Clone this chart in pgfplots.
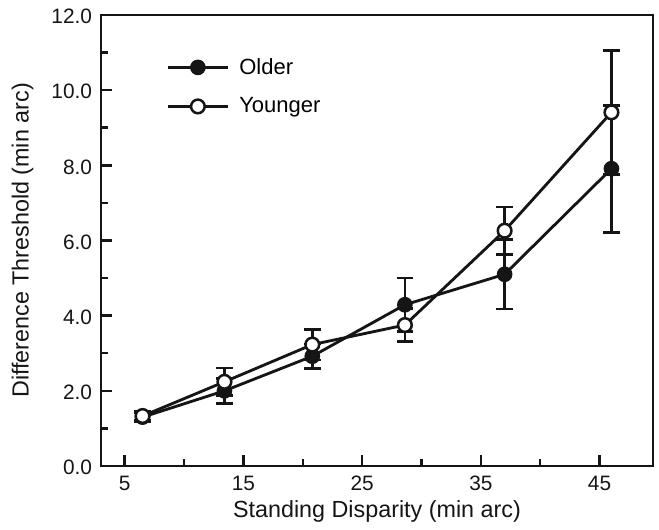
\documentclass[border=0pt]{standalone}
\usepackage{fontspec}
\setmainfont{Liberation Sans}
\usepackage{pgfplots}
\pgfplotsset{compat=1.18}
\definecolor{ink}{HTML}{151515}
\begin{document}
\begin{tikzpicture}
\begin{axis}[
  scale only axis, width=331.2pt, height=270.6pt,
  xmin=3, xmax=49.5, ymin=0, ymax=12,
  xtick={5,15,25,35,45}, minor xtick={10,20,30,40},
  ytick={0,2,...,12}, minor ytick={1,3,...,11},
  xtick pos=bottom, ytick pos=left,
  /pgf/number format/assume math mode=true,
  yticklabel={\pgfmathprintnumber[fixed,fixed zerofill,precision=1]{\tick}},
  tick align=inside, major tick length=6.5pt, minor tick length=4pt,
  axis line style={line width=1.7pt, ink},
  every tick/.style={line width=1.5pt, ink},
  tick label style={font=\fontsize{12.5}{14}\selectfont, text=ink, inner sep=0pt},
  xticklabel style={anchor=base, yshift=-15pt},
  yticklabel style={anchor=east, xshift=-5.2pt, yshift=-1pt},
  label style={font=\fontsize{14}{16}\selectfont, text=ink},
  xlabel={Standing Disparity (min arc)},
  ylabel={Difference Threshold (min arc)},
  xlabel style={at={(rel axis cs:0.5,0)}, anchor=base, yshift=-31.2pt},
  ylabel style={at={(rel axis cs:0,0.5)}, anchor=center, yshift=47pt},
  legend cell align=left,
  legend style={draw=none, fill=none, at={(rel axis cs:0.118,0.905)}, anchor=north west,
    font=\fontsize{13.2}{15}\selectfont, row sep=12.6pt, column sep=6pt, inner sep=0pt,
    nodes={inner sep=0pt}},
  legend image code/.code={
    \draw[#1, mark repeat=2, mark phase=2] plot coordinates {(0pt,0pt) (18pt,0pt) (36pt,0pt)};
  },
  error bars/y dir=both, error bars/y explicit,
  error bars/error bar style={line width=1.6pt, ink},
  error bars/error mark options={rotate=90, mark size=5pt, line width=1.6pt, ink},
]
\addplot[ink, line width=1.7pt, mark=*, mark size=4.1pt, mark options={fill=ink, draw=ink, line width=1.2pt}]
  table[x=x, y=y, y error=e] {
x y e
6.5 1.30 0.12
13.4 2.00 0.33
20.8 2.92 0.33
28.6 4.29 0.71
37.0 5.10 0.92
46.0 7.91 1.69
};
\addlegendentry{Older}
\addplot[ink, line width=1.7pt, mark=*, mark size=4.1pt, mark options={fill=white, draw=ink, line width=1.5pt}]
  table[x=x, y=y, y error=e] {
x y e
6.5 1.33 0.12
13.4 2.24 0.37
20.8 3.23 0.41
28.6 3.75 0.44
37.0 6.26 0.63
46.0 9.41 1.65
};
\addlegendentry{Younger}
\coordinate (sw) at (rel axis cs:0,0);
\coordinate (ne) at (rel axis cs:1,1);
\end{axis}
\pgfresetboundingbox
\path[use as bounding box] ([xshift=-60.6pt,yshift=-38.4pt]sw) rectangle ([xshift=3.6pt,yshift=9pt]ne);
\end{tikzpicture}
\end{document}
